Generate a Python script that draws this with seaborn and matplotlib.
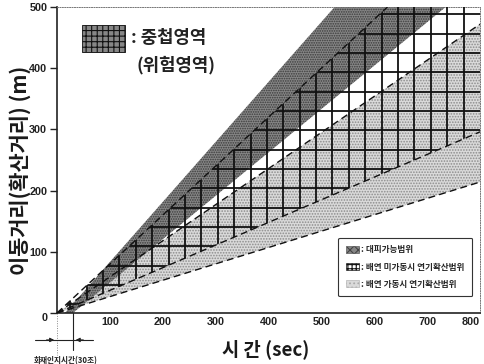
import numpy as np
import seaborn as sns
import matplotlib.pyplot as plt
from matplotlib.patches import Polygon, Rectangle, Patch

# band edges as end points: time (sec), distance (m)
evac_upper_t = [15, 525]
evac_upper_d = [0, 500]
evac_lower_t = [30, 735]
evac_lower_d = [0, 500]
off_upper_t = [0, 625]
off_upper_d = [0, 500]
off_lower_t = [0, 800]
off_lower_d = [0, 296]
on_upper_t = [0, 800]
on_upper_d = [0, 472]
on_lower_t = [0, 800]
on_lower_d = [0, 214]
recog_time = 30

x_ticks = [0, 100, 200, 300, 400, 500, 600, 700, 800]
x_ticklabels = ['', '100', '200', '300', '400', '500', '600', '700', '800']
y_ticks = [0, 100, 200, 300, 400, 500]
legend_labels = [': 대피가능범위', ': 배연 미가동시 연기확산범위', ': 배연 가동시 연기확산범위']

DARK = '#868686'
LIGHT = '#dadada'

sns.set_theme(style='white')
plt.rcParams['font.family'] = ['Noto Sans CJK KR', 'DejaVu Sans']
plt.rcParams['hatch.linewidth'] = 0.8

fig = plt.figure(figsize=(4.85, 3.64), dpi=100)
ax = fig.add_axes([57 / 485, 1 - 313 / 364, 423 / 485, 306 / 364])
ax.set_xlim(0, 800)
ax.set_ylim(0, 500)
xmax, ymax = 800, 500

# smoke spread with exhaust running (light stipple)
on_poly = list(zip(on_upper_t, on_upper_d)) + list(zip(on_lower_t, on_lower_d))[::-1]
ax.add_patch(Polygon(on_poly, closed=True, facecolor=LIGHT, edgecolor='#8c8c8c',
                     hatch='......', linewidth=0, zorder=1))

# evacuation range (dark stipple)
evac_poly = list(zip(evac_upper_t, evac_upper_d)) + list(zip(evac_lower_t, evac_lower_d))[::-1]
ax.add_patch(Polygon(evac_poly, closed=True, facecolor=DARK, edgecolor='#3a3a3a',
                     hatch='.......', linewidth=0, zorder=2))

# smoke spread without exhaust -> grid
off_poly = list(zip(off_upper_t, off_upper_d)) + [(xmax, ymax)] + list(zip(off_lower_t, off_lower_d))[::-1]
clip = Polygon(off_poly, closed=True, facecolor='none', edgecolor='none', zorder=3)
ax.add_patch(clip)
grid_x = np.arange(25, xmax, 31)
grid_y = np.arange(14, ymax, 31.6)
vl = ax.vlines(grid_x, 0, ymax, colors='#111111', linewidth=1.3, zorder=3)
hl = ax.hlines(grid_y, 0, xmax, colors='#111111', linewidth=1.3, zorder=3)
vl.set_clip_path(clip)
hl.set_clip_path(clip)

# dashed edges
for t, d in [(off_upper_t, off_upper_d), (off_lower_t, off_lower_d),
             (on_upper_t, on_upper_d), (on_lower_t, on_lower_d)]:
    sns.lineplot(x=t, y=d, ax=ax, color='#111111', linewidth=1.0,
                 linestyle=(0, (5, 3)), zorder=4)

# axes styling
ax.set_xticks(x_ticks)
ax.set_xticklabels(x_ticklabels)
ax.set_yticks(y_ticks)
for lab in ax.get_xticklabels() + ax.get_yticklabels():
    lab.set_fontfamily('Liberation Sans')
    lab.set_fontweight('bold')
    lab.set_fontsize(7.8)
    lab.set_color('#222222')
ax.get_xticklabels()[-1].set_horizontalalignment('right')
ax.get_yticklabels()[0].set_verticalalignment('top')
ax.tick_params(axis='x', direction='in', length=6, width=1, color='#222222', pad=3)
ax.tick_params(axis='y', direction='out', length=5, width=1, color='#222222', pad=2, left=True)
for s in ['left', 'bottom']:
    ax.spines[s].set_color('#222222')
    ax.spines[s].set_linewidth(1.2)
for s in ['top', 'right']:
    ax.spines[s].set_color('#777777')
    ax.spines[s].set_linewidth(0.7)
    ax.spines[s].set_linestyle((0, (1, 1.5)))

# overlap (danger) key at top-left
ax.add_patch(Rectangle((0.059, 0.853), 0.102, 0.088, transform=ax.transAxes,
                       facecolor=DARK, edgecolor='#111111', hatch='+++', linewidth=0.6, zorder=5))
ax.text(0.175, 0.899, ': 중첩영역', transform=ax.transAxes, fontsize=12.8,
        fontweight='bold', va='center', ha='left', color='#222222')
ax.text(0.282, 0.81, '(위험영역)', transform=ax.transAxes, fontsize=12.8,
        fontweight='bold', va='center', ha='center', color='#222222')

# legend
handles = [Patch(facecolor=DARK, edgecolor='#444444', hatch='xxxx', linewidth=0.4),
           Patch(facecolor='white', edgecolor='#111111', hatch='++++', linewidth=0.5),
           Patch(facecolor=LIGHT, edgecolor='#aaaaaa', hatch='....', linewidth=0.4)]
leg = ax.legend(handles, legend_labels, loc='lower right', bbox_to_anchor=(0.992, 0.04),
                fancybox=True, framealpha=1, edgecolor='#333333',
                prop={'family': ['Noto Sans CJK KR', 'DejaVu Sans'], 'size': 6.2, 'weight': 'bold'},
                handlelength=1.5, handleheight=0.9, handletextpad=0.3,
                labelspacing=0.95, borderpad=0.9)
leg.get_frame().set_linewidth(0.8)
leg.set_zorder(6)

# axis titles
fig.text(20 / 485, 1 - 170 / 364, '이동거리(확산거리) (m)', rotation=90, fontsize=15,
         fontweight='bold', ha='center', va='center', color='#1a1a1a')
fig.text(266 / 485, 1 - 349 / 364, '시 간 (sec)', fontsize=13.5, fontweight='bold',
         ha='center', va='center', color='#1a1a1a')

# fire recognition time marker below the axis
ax.plot([0, 0], [0, -68], color='#888888', linewidth=0.7, linestyle=(0, (1, 1.5)), clip_on=False)
ax.plot([recog_time, recog_time], [0, -60], color='#222222', linewidth=0.8, clip_on=False)
ax.plot([-42, 68], [-44, -44], color='#222222', linewidth=0.8, clip_on=False)
ax.annotate('', xy=(0, -44), xytext=(-25, -44), annotation_clip=False,
            arrowprops=dict(arrowstyle='-|>', color='#222222', lw=0.8, mutation_scale=6))
ax.annotate('', xy=(recog_time, -44), xytext=(recog_time + 25, -44), annotation_clip=False,
            arrowprops=dict(arrowstyle='-|>', color='#222222', lw=0.8, mutation_scale=6))
fig.text(66 / 485, 1 - 361 / 364, '화재인지시간(30초)', fontsize=5.5, fontweight='bold',
         ha='center', va='center', color='#222222')

fig.savefig('out.png', dpi=100)
